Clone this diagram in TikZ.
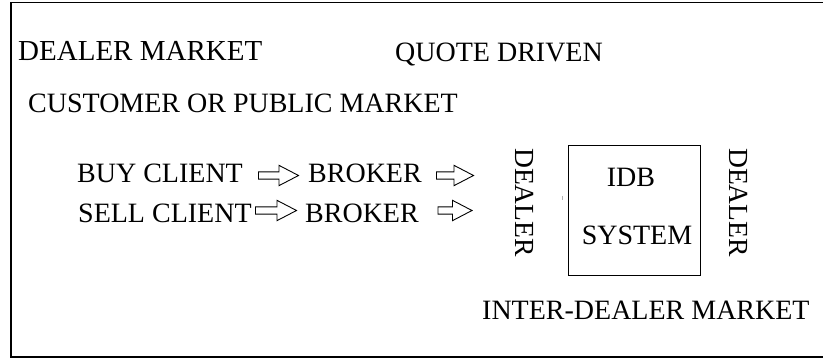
\documentclass[tikz,border=0pt]{standalone}
\usepackage{fontspec}
\setmainfont{Liberation Serif}
\usetikzlibrary{shapes.arrows}
\begin{document}
\begin{tikzpicture}[x=1pt,y=-1pt,
  lbl/.style={inner sep=0pt,anchor=base west,font=\fontsize{28}{30}\selectfont},
  vlbl/.style={inner sep=0pt,rotate=-90,font=\fontsize{27.6}{30}\selectfont},
  blockarrow/.style={single arrow,draw,line width=0.9pt,inner xsep=0pt,inner ysep=3.2pt,
    single arrow head extend=6.5pt,single arrow tip angle=55,shape border rotate=0}]
\useasboundingbox (0,0) rectangle (823,358);
\clip (0,0) rectangle (823,358);
% frame
\draw[line width=1.8pt] (11,2.5) rectangle (840,357);
% titles
\node[lbl,font=\fontsize{29}{31}\selectfont] (dm) at (18,61) {DEALER MARKET};
\node[lbl] (qd) at (395,62) {QUOTE DRIVEN};
\node[lbl] (cp) at (28,113) {CUSTOMER OR PUBLIC MARKET};
% rows
\node[lbl] (buy) at (77,183) {BUY CLIENT};
\node[lbl] (sell) at (78,223) {SELL CLIENT};
\node[lbl] (b1) at (308,183) {BROKER};
\node[lbl] (b2) at (305,223) {BROKER};
\node[blockarrow,minimum height=40pt] (a1) at (275,175.5) {};
\node[blockarrow,minimum height=37pt] (a2) at (451.5,175.5) {};
\node[blockarrow,minimum height=41pt] (a3) at (272.5,210.5) {};
\node[blockarrow,minimum height=34pt] (a4) at (451.5,210.5) {};
% IDB system
\node[draw,line width=1pt,minimum width=132pt,minimum height=130pt,inner sep=0pt] (idb) at (634,211) {};
\node[inner sep=0pt,anchor=base,font=\fontsize{28}{30}\selectfont] (idbt) at (631,187) {IDB};
\node[inner sep=0pt,anchor=base,font=\fontsize{28}{30}\selectfont] (syst) at (637,245) {SYSTEM};
\node[vlbl] (dl) at (525,202.5) {DEALER};
\node[vlbl] (dr) at (739,202.5) {DEALER};
\draw[gray!60,line width=0.8pt] (562,196) -- (562,200);
\node[lbl] (idm) at (482,320) {INTER-DEALER MARKET};
\end{tikzpicture}
\end{document}
